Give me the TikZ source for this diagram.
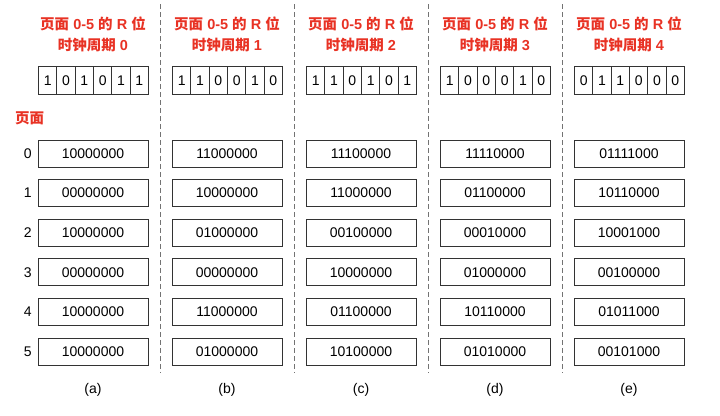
\documentclass[tikz,border=0pt]{standalone}
\usepackage{fontspec}
\setmainfont{Liberation Sans}
\newfontfamily\cjk{Noto Sans CJK SC}
\usetikzlibrary{%
  positioning,% wg. " of "
}
\definecolor{hdred}{RGB}{232,50,36}
\newcommand{\zh}[1]{{\cjk #1}}

\begin{document}
\begin{tikzpicture}[
  x=1pt, y=-1pt,
  font=\fontsize{14}{16}\selectfont,
  line width=1pt,
  head/.style={text=hdred, font=\fontsize{14.5}{17}\selectfont\bfseries},
  bitbox/.style={draw=black!80, minimum width=18.33pt, minimum height=28pt, inner sep=0pt, anchor=north west},
  pagebox/.style={draw=black!80, minimum width=110pt, minimum height=27pt, inner sep=0pt},
  sepline/.style={draw=black!55, line width=0.8pt, dash pattern=on 5pt off 3pt},
]
\useasboundingbox (0,0) rectangle (720,415);

% separators
\foreach \k in {0,...,3} {
  \draw[sepline] (160+134*\k,4) -- (160+134*\k,373);
}

\foreach \c/\lbl/\bits/\pages in {%
  0/a/{1,0,1,0,1,1}/{10000000,00000000,10000000,00000000,10000000,10000000},%
  1/b/{1,1,0,0,1,0}/{11000000,10000000,01000000,00000000,11000000,01000000},%
  2/c/{1,1,0,1,0,1}/{11100000,11000000,00100000,10000000,01100000,10100000},%
  3/d/{1,0,0,0,1,0}/{11110000,01100000,00010000,01000000,10110000,01010000},%
  4/e/{0,1,1,0,0,0}/{01111000,10110000,10001000,00100000,01011000,00101000}} {
  \node[head] (hd\c) at (93+134*\c,24) {\zh{页面} 0-5 \zh{的} R \zh{位}};
  \node[head] (cy\c) at (93+134*\c,45) {\zh{时钟周期} \c};
  \foreach \b [count=\i from 0] in \bits {
    \node[bitbox] (bit\c-\i) at (38+134*\c+18.33*\i,66) {\b};
  }
  \foreach \p [count=\r from 0] in \pages {
    \node[pagebox] (pg\c-\r) at (93+134*\c,153.5+39.6*\r) {\p};
  }
  \node (lb\c) at (93+134*\c,390) {(\lbl)};
}

\node[head] (pglbl) at (29.5,118) {\zh{页面}};
\foreach \r in {0,...,5} {
  \node (rn\r) [left=2pt of pg0-\r] {\r};
}

\end{tikzpicture}
\end{document}
